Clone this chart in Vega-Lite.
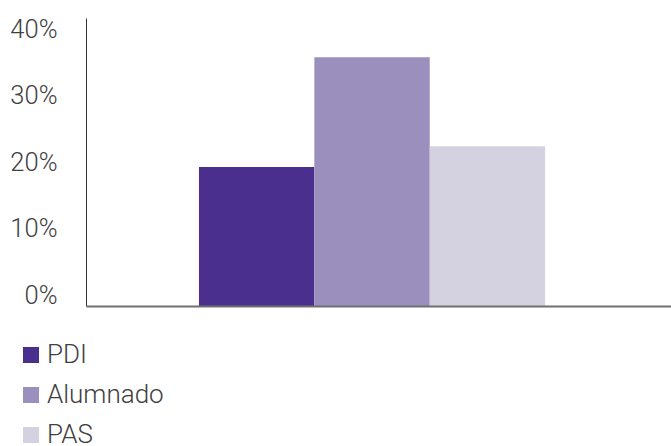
{
  "$schema": "https://vega.github.io/schema/vega-lite/v6.json",
  "width": 585,
  "height": 288,
  "autosize": {"type": "none"},
  "padding": {"left": 86, "top": 18, "right": 0, "bottom": 140},
  "background": "white",
  "data": {
    "values": [
      {"grupo": "", "serie": "PDI", "valor": 0.209},
      {"grupo": "", "serie": "Alumnado", "valor": 0.374},
      {"grupo": "", "serie": "PAS", "valor": 0.240}
    ]
  },
  "mark": {"type": "bar"},
  "encoding": {
    "x": {
      "field": "grupo",
      "type": "nominal",
      "scale": {"paddingOuter": 0.345, "paddingInner": 0, "align": 0.473},
      "axis": {"title": null, "labels": false, "ticks": false, "domainColor": "#707070", "domainWidth": 2, "zindex": 1}
    },
    "xOffset": {
      "field": "serie",
      "type": "nominal",
      "sort": ["PDI", "Alumnado", "PAS"],
      "scale": {"paddingInner": 0, "paddingOuter": 0}
    },
    "y": {
      "field": "valor",
      "type": "quantitative",
      "scale": {"domain": [0, 0.433], "nice": false},
      "axis": {
        "title": null,
        "values": [0, 0.1, 0.2, 0.3, 0.4],
        "format": ".0%",
        "grid": false,
        "ticks": false,
        "domainColor": "#333333",
        "domainWidth": 1,
        "labelFont": "Roboto",
        "labelFontWeight": 300,
        "labelFontSize": 25.5,
        "labelColor": "#404040",
        "labelPadding": 29,
        "labelOffset": -10.5
      }
    },
    "color": {
      "field": "serie",
      "type": "nominal",
      "sort": ["PDI", "Alumnado", "PAS"],
      "scale": {"domain": ["PDI", "Alumnado", "PAS"], "range": ["#4a2f8f", "#9b8fbd", "#d4d1e0"]},
      "legend": {
        "title": null,
        "orient": "none",
        "legendX": -68,
        "legendY": 324,
        "padding": 0,
        "direction": "vertical",
        "symbolType": "square",
        "symbolSize": 256,
        "symbolStrokeWidth": 0,
        "symbolOpacity": 1,
        "labelFont": "Roboto",
        "labelFontWeight": 300,
        "labelFontSize": 26,
        "labelColor": "#404040",
        "labelOffset": 3,
        "rowPadding": 14
      }
    }
  },
  "config": {"view": {"stroke": null}}
}
